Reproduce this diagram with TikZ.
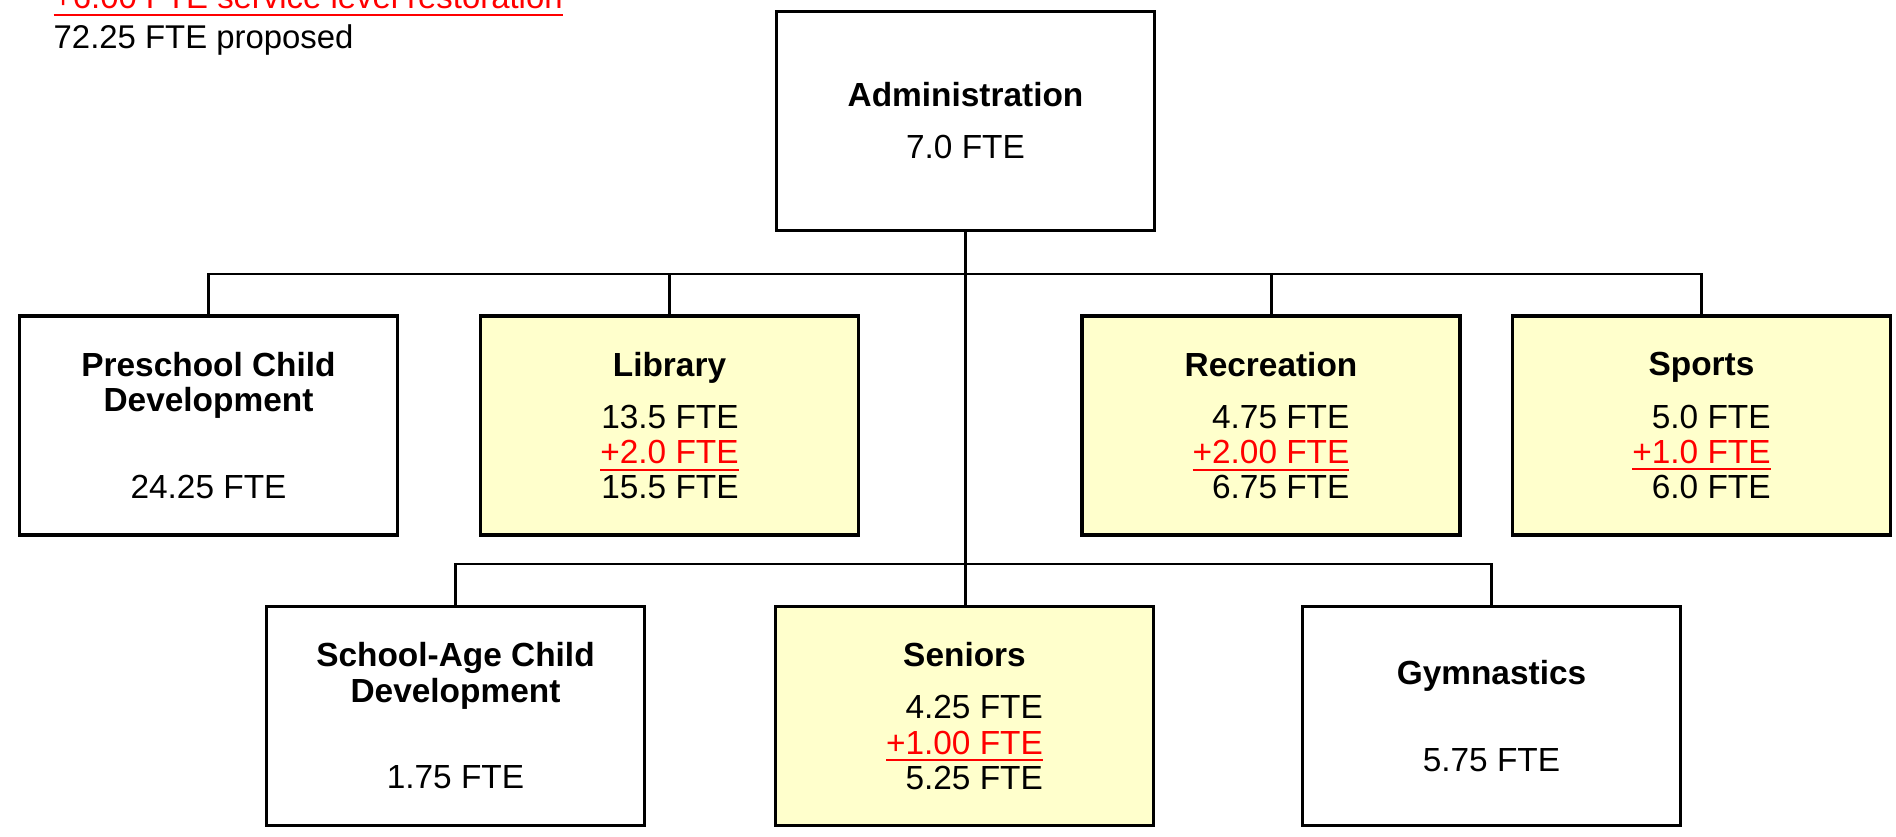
\documentclass[tikz,border=0pt]{standalone}
\usepackage{fontspec}
\setmainfont{Liberation Sans}
\usepackage{xcolor}
\usetikzlibrary{positioning}

\definecolor{unityellow}{HTML}{FFFFCC}
\definecolor{addred}{HTML}{FF0000}

% red added staff, underlined
\newcommand{\addfte}[1]{{\color{addred}\setbox0=\hbox{#1}\rlap{\rule[-2.0pt]{\wd0}{0.6pt}}\box0}}
\newcommand{\ftestack}[3]{\raisebox{0pt}[\height][\dimexpr\depth-3pt\relax]{\begin{tabular}[t]{@{}r@{}}#1\\\addfte{#2}\\#3\end{tabular}}}

\tikzset{
  unit/.style={rectangle, draw=black, line width=1pt, fill=white, minimum width=3.78cm, minimum height=2.19cm, align=center, inner sep=0pt},
  grown/.style={unit, fill=unityellow},
  note/.style={anchor=base west, inner sep=0pt, font=\fontsize{9.35pt}{10pt}\selectfont},
  link/.style={line width=0.85pt},
}

\begin{document}
\begin{tikzpicture}[x=0.01cm, y=-0.01cm, font=\fontsize{9.5pt}{10pt}\selectfont]
\useasboundingbox (0,0) rectangle (1896,837);

\node (restore) [note] at (53,9) {\addfte{+6.00 FTE service level restoration}};
\node (proposed) [note] at (53,49) {72.25 FTE proposed};

\node (admin) [unit] at (965.5,121) {\textbf{Administration}\\[4.8pt]7.0 FTE};

\node (pre) [unit] at (208.5,425.5) {\textbf{Preschool Child}\\\textbf{Development}\\[14.7pt]24.25 FTE};
\node (lib) [grown] at (669.5,425.5) {\textbf{Library}\\[4.8pt]\ftestack{13.5 FTE}{+2.0 FTE}{15.5 FTE}};
\node (rec) [grown] at (1271,425.5) {\textbf{Recreation}\\[4.8pt]\ftestack{4.75 FTE}{+2.00 FTE}{6.75 FTE}};
\node (spo) [grown] at (1701.5,425.5) {\textbf{Sports}\\[4.8pt]\ftestack{5.0 FTE}{+1.0 FTE}{6.0 FTE}};

\node (sch) [unit] at (455.5,716) {\textbf{School-Age Child}\\\textbf{Development}\\[14.7pt]1.75 FTE};
\node (sen) [grown] at (964.5,716) {\textbf{Seniors}\\[4.8pt]\ftestack{4.25 FTE}{+1.00 FTE}{5.25 FTE}};
\node (gym) [unit] at (1491.5,716) {\textbf{Gymnastics}\\[14.7pt]5.75 FTE};

% buses
\coordinate (busA) at (967,274);
\coordinate (busB) at (967,564);

\draw[link] (admin.south) -- (admin.south |- sen.north);
\draw[link] (pre.north) |- (busA) -| (spo.north);
\foreach \n in {lib,rec}
  \draw[link] (\n.north) -- (\n.north |- busA);
\draw[link] (sch.north) |- (busB) -| (gym.north);
\end{tikzpicture}
\end{document}
